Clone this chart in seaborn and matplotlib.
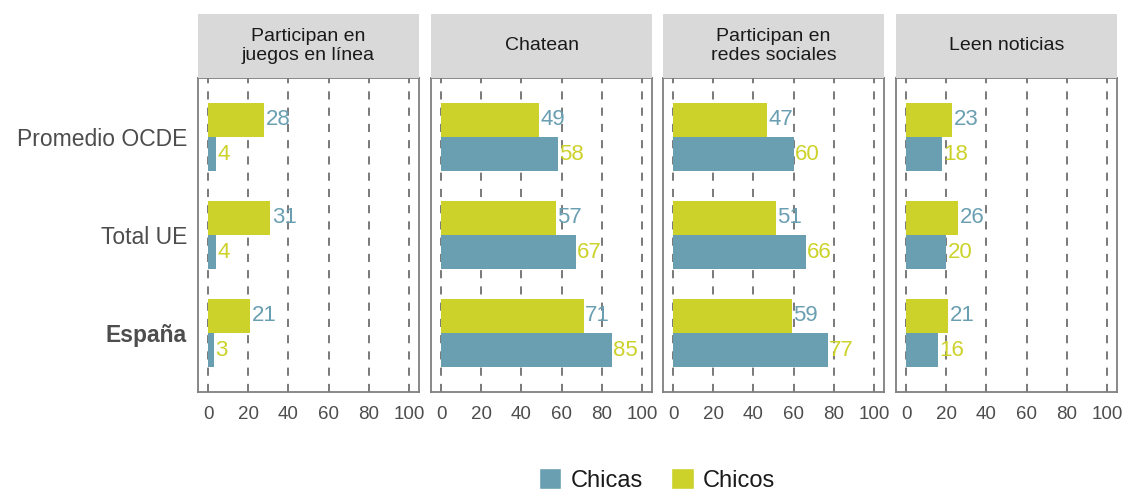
import matplotlib
matplotlib.use("Agg")
import matplotlib.pyplot as plt
import seaborn as sns
import pandas as pd
from matplotlib.patches import Patch

sns.set_theme(style="white")
plt.rcParams['font.family'] = ['Liberation Sans', 'DejaVu Sans']

paises = ["Promedio OCDE", "Total UE", "España"]
actividades = ["Participan en\njuegos en línea", "Chatean", "Participan en\nredes sociales", "Leen noticias"]
chicos = [[28, 31, 21], [49, 57, 71], [47, 51, 59], [23, 26, 21]]
chicas = [[4, 4, 3], [58, 67, 85], [60, 66, 77], [18, 20, 16]]
ticks = [0, 20, 40, 60, 80, 100]

C_CHICAS = "#6A9FB1"
C_CHICOS = "#CCD22A"
TXT = "#4D4D4D"
BORDER = "#7F7F7F"

rows = []
for a, act in enumerate(actividades):
    for p, pais in enumerate(paises):
        rows.append(dict(act=act, pais=pais, sexo="Chicos", valor=chicos[a][p]))
        rows.append(dict(act=act, pais=pais, sexo="Chicas", valor=chicas[a][p]))
df = pd.DataFrame(rows)

W, H = 1123, 493
fig = plt.figure(figsize=(W / 100, H / 100), dpi=100)

def fx(px):
    return px / W

def fy(py):
    return 1 - py / H

panel_w = 221
lefts = [198, 431, 663, 896]
top, bottom, strip_top = 78, 392, 14

for i, act in enumerate(actividades):
    L = lefts[i]
    ax = fig.add_axes([fx(L), fy(bottom), panel_w / W, (bottom - top) / H])
    sub = df[df.act == act]
    sns.barplot(data=sub, y="pais", x="valor", hue="sexo", order=paises,
                hue_order=["Chicos", "Chicas"], palette=[C_CHICOS, C_CHICAS],
                orient="h", width=0.7, linewidth=0, saturation=1, ax=ax,
                legend=False, zorder=2)
    ax.set_xlim(-5, 105)
    ax.set_ylim(2.6, -0.6)
    ax.set_xticks(ticks)
    ax.set_xticklabels([str(t) for t in ticks], fontsize=13.5, color=TXT)
    for t in ticks:
        ax.axvline(t, color="#6E6E6E", lw=1.3, ls=(0, (4.5, 4.5)), zorder=1)
    ax.set_xlabel("")
    ax.set_ylabel("")
    ax.tick_params(axis="x", length=5, width=1.3, color="#6E6E6E", pad=5)
    if i == 0:
        ax.tick_params(axis="y", length=5, width=1.3, color="#6E6E6E", pad=3)
        ax.set_yticks(range(len(paises)))
        ax.set_yticklabels(paises, fontsize=16.5, color=TXT)
        ax.get_yticklabels()[2].set_fontweight("bold")
    else:
        ax.set_yticks([])
    for s in ax.spines.values():
        s.set_color(BORDER)
        s.set_linewidth(1.3)
    # value labels (colors swapped as in the original)
    label_colors = [C_CHICAS, C_CHICOS]
    for cont, col in zip(ax.containers, label_colors):
        ax.bar_label(cont, labels=[f"{int(v)}" for v in cont.datavalues],
                     color=col, fontsize=16, padding=1)
    # strip
    sax = fig.add_axes([fx(L), fy(top), panel_w / W, (top - strip_top) / H])
    sax.set_facecolor("#D9D9D9")
    sax.set_xticks([])
    sax.set_yticks([])
    for s in sax.spines.values():
        s.set_visible(False)
    sax.text(0.5, 0.5, act, ha="center", va="center", fontsize=14,
             color="#1A1A1A", linespacing=1.1, transform=sax.transAxes)

handles = [Patch(facecolor=C_CHICAS, label="Chicas"), Patch(facecolor=C_CHICOS, label="Chicos")]
fig.legend(handles=handles, loc="center", bbox_to_anchor=(fx(657), fy(480)), ncol=2,
           frameon=False, fontsize=17, handlelength=0.95, handleheight=0.95,
           handletextpad=0.4, columnspacing=1.2, labelcolor="#1A1A1A",
           borderpad=0.2)

fig.savefig("out.png", dpi=100, facecolor="white")
